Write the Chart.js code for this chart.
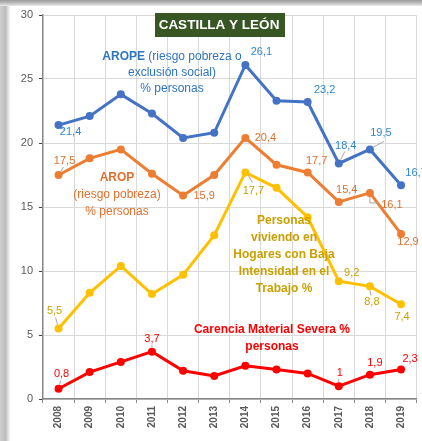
<!DOCTYPE html>
<html>
<head>
<meta charset="utf-8">
<script src="https://cdn.jsdelivr.net/npm/chart.js@4.4.1/dist/chart.umd.min.js"></script>
<style>
  html, body { margin: 0; padding: 0; background: #fff; }
  #frame {
    position: relative; width: 422px; height: 441px; overflow: hidden; background: #fff;
  }
  #frame .top {
    position: absolute; left: 0; top: 0; width: 422px; height: 6px;
    background: linear-gradient(#9a9a9a, #c4c4c4 60%, #ececec);
  }
  #frame .left {
    position: absolute; left: 0; top: 0; width: 10px; height: 441px;
    background: linear-gradient(to right, #d0d0d0, #bdbdbd 55%, #e4e4e4 85%, #f6f6f6);
  }
  #chart { position: absolute; left: 0; top: 0; }
</style>
</head>
<body>
<div id="frame">
  <div class="left"></div>
  <div class="top"></div>
  <canvas id="chart" width="422" height="441"></canvas>
</div>
<script>
const years = ["2008", "2009", "2010", "2011", "2012", "2013", "2014", "2015", "2016", "2017", "2018", "2019"];
const arope = [21.4, 22.1, 23.8, 22.3, 20.4, 20.8, 26.1, 23.3, 23.2, 18.4, 19.5, 16.7];
const arop = [17.5, 18.8, 19.5, 17.6, 15.9, 17.5, 20.4, 18.3, 17.7, 15.4, 16.1, 12.9];
const bajaIntensidad = [5.5, 8.3, 10.4, 8.2, 9.7, 12.8, 17.7, 16.5, 14.2, 9.2, 8.8, 7.4];
const carencia = [0.8, 2.1, 2.9, 3.7, 2.2, 1.8, 2.6, 2.3, 2.0, 1.0, 1.9, 2.3];
const yTicks = [0, 5, 10, 15, 20, 25, 30];

// which points get a value label, and where the text sits relative to the point
const labelSpots = [
  { 0: [12, 7], 6: [16, -13], 8: [17, -12], 9: [7, -18], 10: [11, -16], 11: [15, -12] },
  { 0: [6, -14], 4: [21, 0], 6: [20, 0], 8: [9, -11], 9: [8, -12], 10: [22, 12], 11: [7, 8] },
  { 0: [-4, -18], 6: [8, 19], 9: [13, -8], 10: [2, 16], 11: [1, 13] },
  { 0: [3, -15], 3: [0, -13], 9: [1, -13], 10: [5, -12], 11: [9, -11] }
];
// little grey leader lines (point -> label), as offset paths from the point
const leaders = [
  { 0: [[3, 3], [6, 5]], 9: [[2, -4], [6, -12]], 10: [[3, -2], [14, -8]] },
  { 0: [[2, -3], [5, -8]], 10: [[0, 4], [0, 10], [8, 10]] },
  { 0: [[-1, -4], [-3, -11]], 6: [[3, 3], [7, 10]], 10: [[0, 4], [1, 9]] },
  { 0: [[1, -4], [2, -8]], 3: [[0, -4], [0, -7]], 9: [[0, -4], [0, -7]] }
];
const labelColors = ["#2E86D1", "#E0702C", "#C9A000", "#FF0000"];

const FONT = "'Liberation Sans', Arial, sans-serif";

function runs(ctx, parts, cx, y, size) {
  let total = 0;
  parts.forEach(p => {
    ctx.font = (p[1] ? "bold " : "") + size + "px " + FONT;
    p.w = ctx.measureText(p[0]).width;
    total += p.w;
  });
  let x = cx - total / 2;
  parts.forEach(p => {
    ctx.font = (p[1] ? "bold " : "") + size + "px " + FONT;
    ctx.fillText(p[0], x, y);
    x += p.w;
  });
}

const textPlugin = {
  id: "texts",
  afterDatasetsDraw(chart) {
    const ctx = chart.ctx;
    ctx.save();
    ctx.textBaseline = "middle";

    // leader lines
    ctx.strokeStyle = "#a6a6a6";
    ctx.lineWidth = 1;
    leaders.forEach((set, di) => {
      const meta = chart.getDatasetMeta(di);
      Object.keys(set).forEach(k => {
        const pt = meta.data[k];
        ctx.beginPath();
        set[k].forEach((o, j) => {
          if (j === 0) ctx.moveTo(pt.x + o[0], pt.y + o[1]);
          else ctx.lineTo(pt.x + o[0], pt.y + o[1]);
        });
        ctx.stroke();
      });
    });

    // value labels
    ctx.textAlign = "center";
    ctx.font = "11px " + FONT;
    chart.data.datasets.forEach((ds, di) => {
      const meta = chart.getDatasetMeta(di);
      ctx.fillStyle = labelColors[di];
      Object.keys(labelSpots[di]).forEach(k => {
        const pt = meta.data[k];
        const off = labelSpots[di][k];
        ctx.fillText(String(ds.data[k]).replace(".", ","), pt.x + off[0], pt.y + off[1]);
      });
    });

    // title box
    ctx.fillStyle = "#375623";
    ctx.fillRect(155, 13, 130, 24);
    ctx.fillStyle = "#ffffff";
    ctx.font = "bold 13.5px " + FONT;
    ctx.fillText("CASTILLA Y LEÓN", 219, 25.5);

    // series names
    ctx.textAlign = "left";
    ctx.fillStyle = "#2E75C0";
    runs(ctx, [["AROPE", true], [" (riesgo pobreza o", false]], 172, 57, 12);
    runs(ctx, [["exclusión social)", false]], 172, 73, 12);
    runs(ctx, [["% personas", false]], 172, 89, 12);

    ctx.fillStyle = "#E0702C";
    runs(ctx, [["AROP", true]], 117, 178, 12);
    runs(ctx, [["(riesgo pobreza)", false]], 117, 195, 12);
    runs(ctx, [["% personas", false]], 117, 212, 12);

    ctx.fillStyle = "#C9A000";
    ["Personas", "viviendo en", "Hogares con Baja", "Intensidad en el", "Trabajo %"].forEach((t, i) => {
      runs(ctx, [[t, true]], 284, 221 + i * 16.8, 12);
    });

    ctx.fillStyle = "#FF0000";
    runs(ctx, [["Carencia Material Severa %", true]], 272, 330, 12);
    runs(ctx, [["personas", true]], 272, 347, 12);

    ctx.restore();
  }
};

function line(label, data, color) {
  return {
    label, data,
    borderColor: color, backgroundColor: color,
    borderWidth: 3, pointRadius: 4, pointHoverRadius: 4,
    pointBorderWidth: 0, tension: 0
  };
}

new Chart(document.getElementById("chart"), {
  type: "line",
  data: {
    labels: years,
    datasets: [
      line("AROPE", arope, "#4472C4"),
      line("AROP", arop, "#ED7D31"),
      line("Baja Intensidad", bajaIntensidad, "#FFC000"),
      line("Carencia Material Severa", carencia, "#FF0000")
    ]
  },
  options: {
    responsive: false,
    animation: false,
    layout: { padding: { top: 15, right: 5.4, left: 0, bottom: 0 } },
    plugins: { legend: { display: false }, tooltip: { enabled: false } },
    scales: {
      x: {
        offset: true,
        grid: { offset: true, color: "#d9d9d9", tickLength: 4, tickColor: "#868686" },
        border: { color: "#868686", width: 1.5 },
        ticks: {
          maxRotation: 90, minRotation: 90, padding: 3,
          color: "#595959", font: { family: FONT, size: 10, weight: "bold" }
        },
        afterFit(scale) { scale.height = 42; }
      },
      y: {
        min: 0, max: 30,
        afterBuildTicks(scale) { scale.ticks = yTicks.map(v => ({ value: v })); },
        grid: { color: "#d9d9d9", tickLength: 4, tickColor: "#404040" },
        border: { color: "#868686", width: 1.5 },
        ticks: { padding: 6, color: "#595959", font: { family: FONT, size: 11 } },
        afterFit(scale) { scale.width = 43; }
      }
    }
  },
  plugins: [textPlugin]
});
</script>
</body>
</html>
